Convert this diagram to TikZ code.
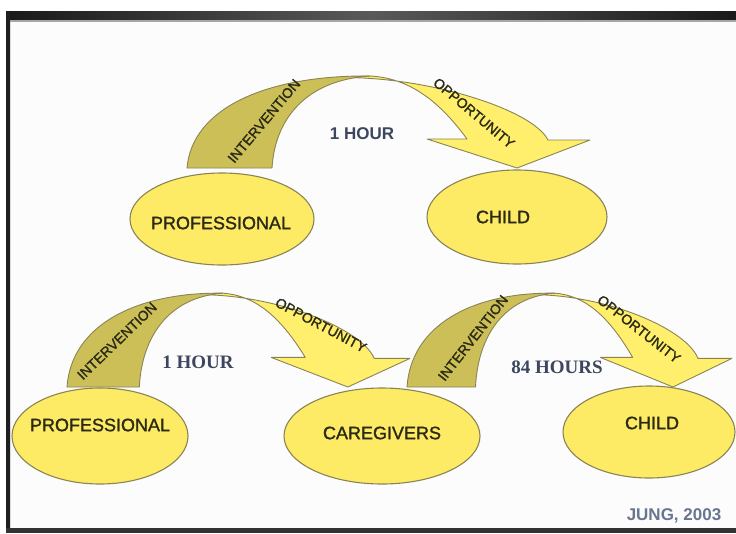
\documentclass[tikz,border=0pt]{standalone}
\usepackage{fontspec}
\setmainfont{Liberation Sans}
\newfontfamily\serifbold{Liberation Serif}
\newfontfamily\inkfont[FakeBold=1.4]{Liberation Sans}
\usetikzlibrary{shapes.geometric}
\definecolor{ovalfill}{HTML}{FDEB65}
\definecolor{lightfill}{HTML}{FFEF6C}
\definecolor{darkfill}{HTML}{CDBF58}
\definecolor{edgecol}{HTML}{8A8455}
\definecolor{inktext}{HTML}{2B2A14}
\definecolor{hourtext}{HTML}{3C465E}
\definecolor{cite}{HTML}{6A7590}
\tikzset{
  oval/.style={ellipse, draw=edgecol, fill=ovalfill, line width=1.1pt, inner sep=0pt},
  darkband/.style={draw=edgecol, fill=darkfill, line width=0.9pt, line join=round},
  lightband/.style={draw=edgecol, fill=lightfill, line width=0.9pt, line join=round},
  bandtext/.style={font=\inkfont\fontsize{14}{14}\selectfont, text=inktext, inner sep=0pt},
  ovaltext/.style={font=\inkfont\fontsize{18}{18}\selectfont, text=inktext, inner sep=0pt},
  hourtop/.style={font=\fontsize{17}{17}\selectfont\bfseries, text=hourtext, inner sep=0pt},
  hourserif/.style={font=\fontsize{19}{19}\selectfont\serifbold\bfseries, text=hourtext, inner sep=0pt},
}
% curved arrow template: origin at left foot of the dark band, y grows downward
\newcommand{\curvedband}{%
  \draw[lightband] (139,-90) .. controls (230,-95) and (345,-60) .. (361,-28)
     -- (403,-28) -- (330,0) -- (240,-29) -- (280,-29)
     .. controls (250,-70) and (220,-90) .. (183,-92) -- cycle;
  \draw[darkband] (0,0) .. controls (5,-60) and (80,-93) .. (183,-92)
     .. controls (120,-88) and (88,-50) .. (85,0) -- cycle;
}
\begin{document}
\begin{tikzpicture}[x=1pt,y=-1pt]
\useasboundingbox (0,0) rectangle (736,533);
\fill[white] (0,0) rectangle (736,533);
\fill[white!99!black] (10,21) rectangle (736,528);
% frame
\shade[left color=black!90, right color=black!90, middle color=black!65] (6,11) rectangle (736,20);
\fill[black!35] (10,20) rectangle (736,22);
\fill[black!88] (6,11) rectangle (10,533);
\fill[black!15] (10,22) rectangle (11,528);
\fill[black!80] (6,528) rectangle (736,533);

% ellipses
\node[oval, minimum width=184pt, minimum height=92pt] (p1) at (222,219) {};
\node[oval, minimum width=180pt, minimum height=94pt] (c1) at (517,217) {};
\node[oval, minimum width=176pt, minimum height=96pt] (p2) at (100,436) {};
\node[oval, minimum width=196pt, minimum height=96pt] (g2) at (382,436) {};
\node[oval, minimum width=172pt, minimum height=92pt] (c2) at (649,432) {};

% curved arrows
\begin{scope}[shift={(187,168)}]
  \curvedband
\end{scope}
\begin{scope}[shift={(67,387)}, xscale=0.851, yscale=1.02]
  \curvedband
\end{scope}
\begin{scope}[shift={(407,387)}, xscale=0.806, yscale=1.02]
  \curvedband
\end{scope}

% labels in ellipses
\node[ovaltext] (tp1) at (221,223) {PROFESSIONAL};
\node[ovaltext] (tc1) at (503,217) {CHILD};
\node[ovaltext] (tp2) at (100,425) {PROFESSIONAL};
\node[ovaltext] (tg2) at (382,433) {CAREGIVERS};
\node[ovaltext] (tc2) at (652,423) {CHILD};

% band labels
\node[bandtext, rotate=50] (i1) at (264,121) {INTERVENTION};
\node[bandtext, rotate=-40] (o1) at (474,113) {OPPORTUNITY};
\node[bandtext, rotate=44] (i2) at (117,341) {INTERVENTION};
\node[bandtext, rotate=-28] (o2) at (321,325) {OPPORTUNITY};
\node[bandtext, rotate=52] (i3) at (473,338) {INTERVENTION};
\node[bandtext, rotate=-38] (o3) at (639,329) {OPPORTUNITY};

% hours
\node[hourtop] (h1) at (362,134) {1 HOUR};
\node[hourserif] (h2) at (198,362) {1 HOUR};
\node[hourserif] (h3) at (557,367) {84 HOURS};

\node[font=\fontsize{17}{17}\selectfont\bfseries, text=cite, inner sep=0pt] (src) at (674,516) {JUNG, 2003};
\end{tikzpicture}
\end{document}
